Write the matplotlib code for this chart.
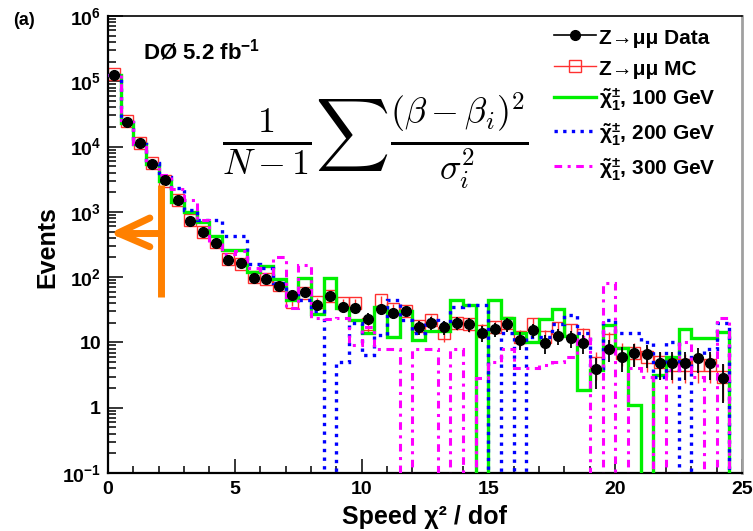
import numpy as np
import matplotlib.pyplot as plt
from matplotlib.lines import Line2D
from matplotlib.ticker import FixedLocator, LogLocator, MultipleLocator, NullFormatter

plt.rcParams['font.family'] = ['Liberation Sans', 'DejaVu Sans']
plt.rcParams['font.weight'] = 'bold'
plt.rcParams['mathtext.fontset'] = 'custom'
plt.rcParams['mathtext.rm'] = 'Liberation Sans:bold'
plt.rcParams['mathtext.it'] = 'Liberation Sans:bold:italic'
plt.rcParams['mathtext.bf'] = 'Liberation Sans:bold'

# binning: 50 bins of 0.5 in speed chi2/dof
bin_edges = np.linspace(0, 25, 51)
nan = np.nan

# Z->mumu data (events per bin)
data = [1.25e5, 2.4e4, 1.13e4, 5.4e3, 3.1e3, 1.5e3, 7.2e2, 4.9e2, 3.3e2, 1.8e2,
        1.65e2, 98, 94, 74, 54, 59, 38, 51, 35, 34,
        23, 32, 28, 30, 17, 20, 17, 20, 19, 14,
        16, 19, 11, 15.5, 9.8, 12.6, 11.7, 9.8, 3.9, 7.9,
        6.0, 6.9, 6.6, 4.9, 4.9, 4.9, 5.8, 4.9, 2.9, nan]
# Z->mumu MC
mc = [1.3e5, 2.5e4, 1.15e4, 5.6e3, 3.0e3, 1.5e3, 7.5e2, 5.0e2, 3.4e2, 1.9e2,
      1.6e2, 1.0e2, 95, 75, 42, 58, 41, 52, 40, 40,
      19, 45, 33, 30, 18, 22, 14, 20, 19, 15,
      17, 20, 12, 19, 12, 16.6, 15.5, 13, 4.9, 11,
      7, 7, 6, 5, 4.5, 4.5, 4.5, 4.5, 3.0, nan]
# chargino signal, 100 / 200 / 300 GeV
sig100 = [1.25e5, 2.3e4, 1.1e4, 5.5e3, 3.0e3, 1.4e3, 1.0e3, 7.0e2, 4.2e2, 2.6e2,
          2.6e2, 1.2e2, 1.5e2, 95, 45, 98, 27, 98, 34, 22,
          14, 35, 12, 30, 11, 15, 15, 44, 37, 0,
          44, 24, 14, 10, 23, 33, 12.6, 1.9, 3.8, 18.6,
          8.3, 1.1, 0, 3.2, 6.0, 16, 11.7, 11.7, 14.5, 0]
sig200 = [1.25e5, 2.4e4, 1.1e4, 5.6e3, 3.4e3, 2.3e3, 1.05e3, 7.6e2, 7.6e2, 4.3e2,
          4.2e2, 1.6e2, 1.4e2, 80, 55, 45, 30, 0, 5, 20,
          6.5, 13, 45, 22, 14, 22, 20, 35, 37, 37,
          0, 14, 0, 12, 12, 19, 26, 14, 4, 22,
          14, 14, 10, 3, 10, 0, 6, 8, 20, 0]
sig300 = [1.25e5, 2.4e4, 1.1e4, 5.6e3, 3.7e3, 2.2e3, 1.5e3, 7.5e2, 3.5e2, 2.3e2,
          2.5e2, 1.4e2, 1.1e2, 2.0e2, 34, 155, 24, 23, 24, 9,
          17, 8, 8, 0, 7.8, 7.8, 0, 7.8, 0, 2.9,
          5, 8, 4, 4, 4.5, 5, 6, 12, 0, 80,
          0, 4, 3, 0, 3.8, 10, 3, 0, 24, 0]

centers = 0.5 * (bin_edges[:-1] + bin_edges[1:])
data = np.array(data)
mc = np.array(mc)

green, blue, magenta, red = '#00f000', '#0000ff', '#ff00ff', '#ff3030'
ls_blue = (0, (1, 1.6))
ls_mag = (0, (2.5, 1.8, 1, 1.8))

fig = plt.figure(figsize=(7.53, 5.31), dpi=100)
ax = fig.add_axes([0.1434, 0.1092, 0.842, 0.8607])

# MC with stat errors
ax.errorbar(centers, mc, yerr=np.sqrt(mc), fmt='s', mfc='none', mec=red,
            ecolor=red, ms=8, mew=1.0, elinewidth=1.0, zorder=2)
# signal histograms
ax.stairs(sig100, bin_edges, baseline=None, color=green, lw=2.4, zorder=3)
ax.stairs(sig200, bin_edges, baseline=None, color=blue, lw=2.4,
          linestyle=ls_blue, zorder=4)
ax.stairs(sig300, bin_edges, baseline=None, color=magenta, lw=2.2,
          linestyle=ls_mag, zorder=5)
# data with sqrt(N) errors
ax.errorbar(centers, data, yerr=np.sqrt(data), fmt='o', color='black',
            ms=7, elinewidth=1.3, zorder=6)

ax.set_yscale('log')
ax.set_xlim(0, 25)
ax.set_ylim(0.1, 1e6)

ax.yaxis.set_major_locator(FixedLocator([0.1, 1, 10, 1e2, 1e3, 1e4, 1e5, 1e6]))
ax.set_yticklabels(['$10^{-1}$', '1', '10', '$10^{2}$', '$10^{3}$', '$10^{4}$',
                    '$10^{5}$', '$10^{6}$'])
ax.yaxis.set_minor_locator(LogLocator(base=10, subs=np.arange(2, 10), numticks=20))
ax.yaxis.set_minor_formatter(NullFormatter())
ax.xaxis.set_major_locator(MultipleLocator(5))
ax.xaxis.set_minor_locator(MultipleLocator(1))

ax.tick_params(axis='both', which='both', direction='in', top=False, right=False,
               labelsize=14, width=1.1)
ax.tick_params(axis='y', which='major', length=11, pad=5)
ax.tick_params(axis='y', which='minor', length=6)
ax.tick_params(axis='x', which='major', length=10, pad=6)
ax.tick_params(axis='x', which='minor', length=5)

for s in ['left', 'bottom']:
    ax.spines[s].set_linewidth(1.6)
ax.spines['top'].set_linewidth(1.2)
ax.spines['right'].set_linewidth(2.0)
ax.spines['right'].set_color('#a0a0a0')

ax.set_ylabel('Events', fontsize=18, fontweight='bold')
ax.yaxis.set_label_coords(-0.077, 0.495)
ax.set_xlabel('Speed χ² / dof', fontsize=18, fontweight='bold')
ax.xaxis.set_label_coords(0.5, -0.07)

fig.text(0.017, 0.962, '(a)', fontsize=13, fontweight='bold', va='center')
ax.text(0.055, 0.923, 'DØ 5.2 fb$^{-1}$', transform=ax.transAxes, fontsize=16,
        fontweight='bold', va='center')

ax.text(0.422, 0.726,
        r'$\frac{1}{N-1}\sum\frac{(\beta-\beta_i)^2}{\sigma_i^2}$',
        transform=ax.transAxes, fontsize=37, math_fontfamily='cm',
        ha='center', va='center')

# orange arrow annotation
orange = '#ff8000'
ax.plot([0.0836, 0.0836], [0.385, 0.630], color=orange, lw=5,
        solid_capstyle='butt', transform=ax.transAxes, zorder=10)
ax.plot([0.0158, 0.0836], [0.525, 0.525], color=orange, lw=5,
        solid_capstyle='round', transform=ax.transAxes, zorder=10)
ax.plot([0.066, 0.0158, 0.066], [0.558, 0.525, 0.495], color=orange, lw=5,
        solid_capstyle='round', solid_joinstyle='round', transform=ax.transAxes,
        zorder=10)

handles = [
    Line2D([], [], color='black', marker='o', ms=7, lw=1.2),
    Line2D([], [], color=red, marker='s', mfc='none', ms=8, lw=1.0),
    Line2D([], [], color=green, lw=2.4),
    Line2D([], [], color=blue, lw=2.4, linestyle=ls_blue),
    Line2D([], [], color=magenta, lw=2.2, linestyle=ls_mag),
]
labels = ['Z→μμ Data', 'Z→μμ MC',
          r'$\tilde{\mathrm{\chi}}_1^{\pm}$, 100 GeV',
          r'$\tilde{\mathrm{\chi}}_1^{\pm}$, 200 GeV',
          r'$\tilde{\mathrm{\chi}}_1^{\pm}$, 300 GeV']
fig.legend(handles, labels, loc='upper left', bbox_to_anchor=(0.722, 0.97),
           frameon=False, fontsize=15, handlelength=2.0, handletextpad=0.15,
           handleheight=1.25, labelspacing=0.4, borderpad=0)

fig.savefig('out.png', dpi=100)
